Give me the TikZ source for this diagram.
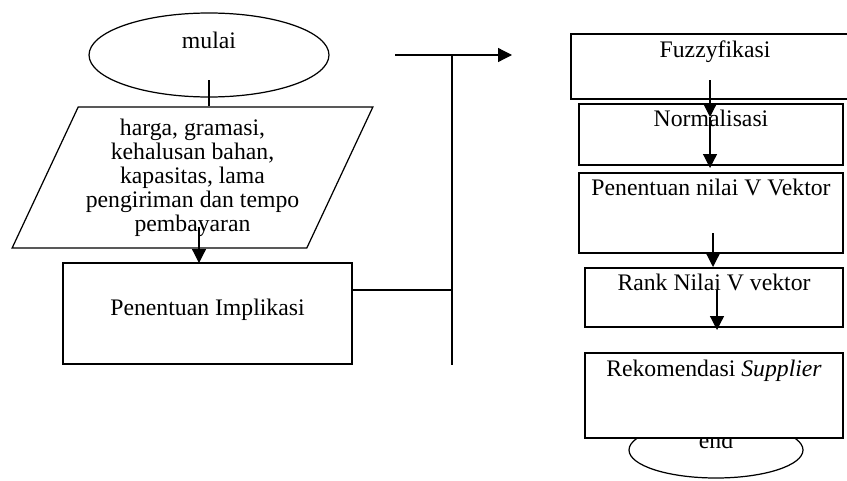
\documentclass[tikz,border=0pt]{standalone}
\usepackage{fontspec}
\setmainfont{Liberation Serif}
\usetikzlibrary{shapes.geometric, arrows.meta, positioning}

\begin{document}
\begin{tikzpicture}[x=0.02cm, y=-0.02cm, line width=0.7pt,
    font=\fontsize{13.5}{13.66}\selectfont,
    kotak/.style={draw, rectangle, fill=white, inner sep=0pt},
    terminal/.style={draw, ellipse, inner sep=0pt},
    masukan/.style={draw, trapezium, trapezium left angle=63.3, trapezium right angle=116.7,
        trapezium stretches=true, align=center},
    panah/.style={-{Triangle[length=0.28cm, width=0.28cm]}}]
        \useasboundingbox (0,0) rectangle (847,480);
        % kolom kiri
        \node[terminal, minimum width=4.8cm, minimum height=1.68cm, text height=0.2cm, text depth=0.48cm] (mulai) at (209,55) {mulai};
        \node[masukan, minimum width=7.22cm, minimum height=2.82cm] (data) at (192.5,177.5)
            {harga, gramasi,\\kehalusan bahan,\\kapasitas, lama\\pengiriman dan tempo\\pembayaran};
        \node[kotak, minimum width=5.78cm, text height=1.04cm, text depth=0.98cm] (implikasi) at (207.5,313.5) {Penentuan Implikasi};
        % kolom kanan
        \node[terminal, minimum width=3.48cm, minimum height=1.12cm, text height=0.2cm, text depth=0.28cm] (selesai) at (716,450) {end};
        \node[kotak, minimum width=5.76cm, text height=0.46cm, text depth=0.84cm] (fuzzy) at (715,66.5) {Fuzzyfikasi};
        \node[kotak, minimum width=5.28cm, text height=0.44cm, text depth=0.78cm] (normal) at (711,134.5) {Normalisasi};
        \node[kotak, minimum width=5.28cm, text height=0.44cm, text depth=1.16cm] (nilai) at (711,213) {Penentuan nilai V Vektor};
        \node[kotak, minimum width=5.16cm, text height=0.44cm, text depth=0.74cm] (rank) at (714,297.5) {Rank Nilai V vektor};
        \node[kotak, minimum width=5.16cm, text height=0.46cm, text depth=1.24cm] (rekom) at (714,395.5) {Rekomendasi \textit{Supplier}};
        \coordinate (kiri) at (395,55);
        \coordinate (atas) at (452,55);
        \coordinate (bawah) at (452,365);
        \coordinate (ujung) at (512,55);
        % alur
        \draw ([shift={(0,25)}]mulai.center) -- (mulai.center |- data.north);
        \draw[panah] (data.center) ++(6.5,49.5) -- ++(0,36);
        \draw ([shift={(0,-23.5)}]implikasi.east) -- ++(100,0);
        \draw (atas) -- (bawah);
        \draw[panah] (kiri) -- (ujung);
        \draw[panah] (fuzzy.center) ++(-5,13.5) -- ++(0,37);
        \draw[panah] (normal.center) ++(-1,-17.5) -- ++(0,51);
        \draw[panah] (nilai.center) ++(2,20) -- ++(0,34);
        \draw[panah] (rank.center) ++(3,-7.5) -- ++(0,40);
    \end{tikzpicture}
\end{document}
